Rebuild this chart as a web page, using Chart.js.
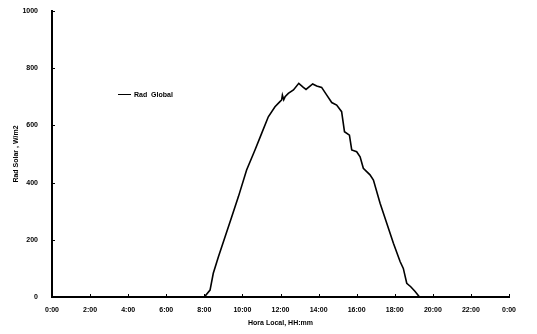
<!DOCTYPE html>
<html>
<head>
<meta charset="utf-8">
<script src="https://cdn.jsdelivr.net/npm/chart.js@4.4.1/dist/chart.umd.min.js"></script>
<style>
  html, body { margin: 0; padding: 0; background: #fff; }
  #wrap { position: relative; width: 537px; height: 334px; }
  #legend { position: absolute; left: 118px; top: 91px; font: bold 7px "Liberation Sans", Arial, sans-serif; color: #000; display: flex; align-items: center; }
  #legend span.swatch { display: inline-block; width: 13px; height: 0; border-top: 1.5px solid #000; margin-right: 3px; }
</style>
</head>
<body>
<div id="wrap">
  <canvas id="c" width="537" height="334"></canvas>
  <div id="legend"><span class="swatch"></span>Rad&nbsp; Global</div>
</div>
<script>
// Global solar radiation over one day (hour of day, W/m2)
const hours = [0, 8.0, 8.3, 8.47, 8.74, 9.09, 9.44, 9.79, 10.22, 10.66, 11.01, 11.36, 11.71, 11.97,
  12.06, 12.1, 12.17, 12.24, 12.41, 12.68, 12.96, 13.2, 13.34, 13.69, 13.9, 14.16, 14.43, 14.69, 14.95,
  15.21, 15.36, 15.62, 15.74, 16.0, 16.18, 16.35, 16.7, 16.88, 17.23, 17.58, 17.93, 18.28, 18.45,
  18.63, 18.84, 19.07, 19.3, 24];
const radGlobal = [0, 0, 24, 83, 141, 211, 281, 351, 444, 514, 572, 630, 665, 683,
  689, 706, 690, 700, 712, 724, 747, 733, 726, 745, 738, 733, 706, 680, 671,
  648, 578, 566, 514, 508, 490, 450, 427, 409, 328, 258, 188, 124, 100,
  48, 36, 19, 0, 0];
const xTicks = [0, 2, 4, 6, 8, 10, 12, 14, 16, 18, 20, 22, 24];
const yTicks = [0, 200, 400, 600, 800, 1000];

const font = { family: '"Liberation Sans", Arial, sans-serif', size: 7, weight: 'bold' };

// short tick marks pointing into the plot area
const innerTicks = {
  id: 'innerTicks',
  afterDraw(chart) {
    const { ctx, scales: { x, y } } = chart;
    ctx.save();
    ctx.strokeStyle = '#000';
    ctx.lineWidth = 1;
    ctx.beginPath();
    yTicks.forEach(v => { const py = Math.round(y.getPixelForValue(v)) + 0.5; ctx.moveTo(x.left, py); ctx.lineTo(x.left + 3, py); });
    xTicks.forEach(v => { const px = Math.round(x.getPixelForValue(v)) + 0.5; ctx.moveTo(px, y.bottom); ctx.lineTo(px, y.bottom - 3); });
    ctx.stroke();
    ctx.restore();
  }
};

new Chart(document.getElementById('c'), {
  type: 'line',
  data: {
    datasets: [{
      label: 'Rad Global',
      data: hours.map((h, i) => ({ x: h, y: radGlobal[i] })),
      borderColor: '#000',
      borderWidth: 1.6,
      pointRadius: 0,
      tension: 0,
      fill: false
    }]
  },
  options: {
    responsive: false,
    animation: false,
    layout: { padding: { top: 11, right: 28, left: 0, bottom: 0 } },
    plugins: { legend: { display: false }, tooltip: { enabled: false } },
    scales: {
      x: {
        type: 'linear', min: 0, max: 24,
        afterBuildTicks: s => { s.ticks = xTicks.map(v => ({ value: v })); },
        afterFit: s => { s.height = 37; },
        grid: { display: false, drawTicks: true, tickLength: 7 },
        border: { display: true, color: '#000', width: 2 },
        ticks: { color: '#000', font, padding: 2, maxRotation: 0, autoSkip: false,
          callback: v => (v % 24) + ':00' },
        title: { display: true, text: 'Hora Local, HH:mm', color: '#000', font, padding: { top: 0, bottom: 7 } }
      },
      y: {
        min: 0, max: 1000,
        afterBuildTicks: s => { s.ticks = yTicks.map(v => ({ value: v })); },
        afterFit: s => { s.width = 52; },
        grid: { display: false, drawTicks: true, tickLength: 12 },
        border: { display: true, color: '#000', width: 2 },
        ticks: { color: '#000', font, padding: 2, callback: v => String(v) },
        title: { display: true, text: 'Rad Solar , W/m2', color: '#000', font, padding: { top: 12, bottom: 0 } }
      }
    }
  },
  plugins: [innerTicks]
});
</script>
</body>
</html>
